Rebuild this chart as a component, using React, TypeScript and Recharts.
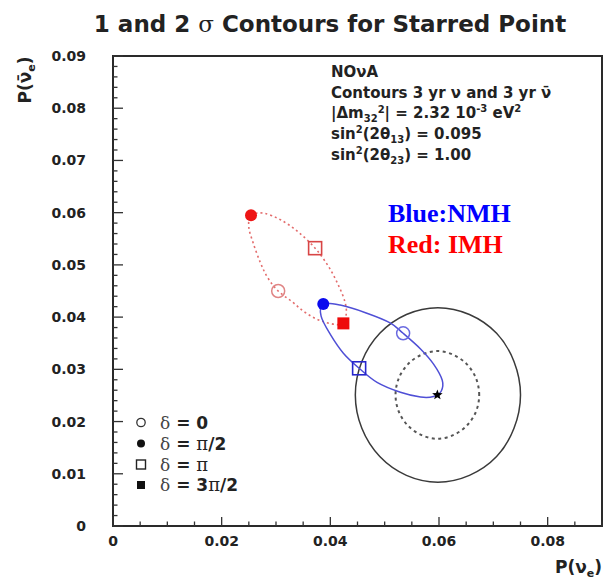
import React from 'react';
import { ScatterChart, Scatter, XAxis, YAxis, ReferenceArea } from 'recharts';

// ---- axis ticks ----
const xMajorTicks = [0, 0.02, 0.04, 0.06, 0.08];
const xTicks = [0, 0.005, 0.01, 0.015, 0.02, 0.025, 0.03, 0.035, 0.04, 0.045, 0.05, 0.055, 0.06, 0.065, 0.07, 0.075, 0.08, 0.085, 0.09];
const yMajorTicks = [0, 0.01, 0.02, 0.03, 0.04, 0.05, 0.06, 0.07, 0.08, 0.09];
const yTicks = [0, 0.002, 0.004, 0.006, 0.008, 0.01, 0.012, 0.014, 0.016, 0.018, 0.02, 0.022, 0.024, 0.026, 0.028, 0.03, 0.032, 0.034, 0.036, 0.038, 0.04, 0.042, 0.044, 0.046, 0.048, 0.05, 0.052, 0.054, 0.056, 0.058, 0.06, 0.062, 0.064, 0.066, 0.068, 0.07, 0.072, 0.074, 0.076, 0.078, 0.08, 0.082, 0.084, 0.086, 0.088, 0.09];

// ---- contours ----
const nmhContour = [
  { x: 0.0387, y: 0.0425 }, { x: 0.0418, y: 0.0423 }, { x: 0.0466, y: 0.0408 }, { x: 0.0510, y: 0.0389 },
  { x: 0.0534, y: 0.0369 }, { x: 0.0566, y: 0.0339 }, { x: 0.0590, y: 0.0310 }, { x: 0.0606, y: 0.0279 },
  { x: 0.0604, y: 0.0258 }, { x: 0.0590, y: 0.0248 }, { x: 0.0566, y: 0.0247 }, { x: 0.0529, y: 0.0256 },
  { x: 0.0486, y: 0.0275 }, { x: 0.0453, y: 0.0302 }, { x: 0.0424, y: 0.0331 }, { x: 0.0400, y: 0.0367 },
  { x: 0.0383, y: 0.0402 },
];
const imhContour = [
  { x: 0.0254, y: 0.0595 }, { x: 0.0278, y: 0.0599 }, { x: 0.0309, y: 0.0586 }, { x: 0.0341, y: 0.0563 },
  { x: 0.0372, y: 0.0532 }, { x: 0.0396, y: 0.0498 }, { x: 0.0414, y: 0.0463 }, { x: 0.0427, y: 0.0429 },
  { x: 0.0429, y: 0.0404 }, { x: 0.0420, y: 0.0386 }, { x: 0.0385, y: 0.0392 }, { x: 0.0355, y: 0.0408 },
  { x: 0.0330, y: 0.0429 }, { x: 0.0304, y: 0.0450 }, { x: 0.0285, y: 0.0475 }, { x: 0.0271, y: 0.0505 },
  { x: 0.0258, y: 0.0542 }, { x: 0.0250, y: 0.0572 },
];
const twoSigmaContour = [
  { x: 0.0750, y: 0.0251 }, { x: 0.0738, y: 0.0315 }, { x: 0.0706, y: 0.0369 }, { x: 0.0656, y: 0.0405 },
  { x: 0.0598, y: 0.0418 }, { x: 0.0540, y: 0.0405 }, { x: 0.0491, y: 0.0369 }, { x: 0.0458, y: 0.0315 },
  { x: 0.0446, y: 0.0251 }, { x: 0.0458, y: 0.0187 }, { x: 0.0491, y: 0.0133 }, { x: 0.0540, y: 0.0097 },
  { x: 0.0598, y: 0.0084 }, { x: 0.0656, y: 0.0097 }, { x: 0.0706, y: 0.0133 }, { x: 0.0738, y: 0.0187 },
];
const oneSigmaContour = [
  { x: 0.0674, y: 0.0251 }, { x: 0.0668, y: 0.0283 }, { x: 0.0651, y: 0.0310 }, { x: 0.0626, y: 0.0328 },
  { x: 0.0597, y: 0.0335 }, { x: 0.0568, y: 0.0328 }, { x: 0.0543, y: 0.0310 }, { x: 0.0526, y: 0.0283 },
  { x: 0.0520, y: 0.0251 }, { x: 0.0526, y: 0.0219 }, { x: 0.0543, y: 0.0192 }, { x: 0.0568, y: 0.0174 },
  { x: 0.0597, y: 0.0167 }, { x: 0.0626, y: 0.0174 }, { x: 0.0651, y: 0.0192 }, { x: 0.0668, y: 0.0219 },
];

// ---- marked points ----
const starredPoint = [{ x: 0.0597, y: 0.0251 }];
const nmhDelta0 = [{ x: 0.0534, y: 0.0369 }];
const nmhDeltaHalfPi = [{ x: 0.0387, y: 0.0425 }];
const nmhDeltaPi = [{ x: 0.0453, y: 0.0302 }];
const imhDelta0 = [{ x: 0.0304, y: 0.0450 }];
const imhDeltaHalfPi = [{ x: 0.0254, y: 0.0595 }];
const imhDeltaPi = [{ x: 0.0372, y: 0.0532 }];
const imhDelta3HalfPi = [{ x: 0.0424, y: 0.0388 }];

const legendLabels = ['0', 'π/2', 'π', '3π/2'];
const infoLines = ['NOνA', 'Contours 3 yr ν and 3 yr ν̄'];

const SANS = 'DejaVu Sans';
const SERIF = 'DejaVu Serif';
const INK = '#222';

// closed Catmull-Rom curve through the read points
const closedSmooth = (context: any) => {
  let pts: number[][] = [];
  return {
    areaStart() {},
    areaEnd() {},
    lineStart() { pts = []; },
    point(x: number, y: number) { pts.push([+x, +y]); },
    lineEnd() {
      const n = pts.length;
      if (!n) return;
      context.moveTo(pts[0][0], pts[0][1]);
      for (let i = 0; i < n; i++) {
        const p0 = pts[(i - 1 + n) % n], p1 = pts[i], p2 = pts[(i + 1) % n], p3 = pts[(i + 2) % n];
        context.bezierCurveTo(
          p1[0] + (p2[0] - p0[0]) / 6, p1[1] + (p2[1] - p0[1]) / 6,
          p2[0] - (p3[0] - p1[0]) / 6, p2[1] - (p3[1] - p1[1]) / 6,
          p2[0], p2[1]
        );
      }
      context.closePath();
    },
  };
};

const isIn = (arr: number[], v: number) => arr.some((m) => Math.abs(m - v) < 1e-9);
const fmt = (v: number) => (v === 0 ? '0' : v.toFixed(2));

const XTick = (props: any) => {
  const { x, y, payload } = props;
  const major = isIn(xMajorTicks, payload.value);
  return (
    <g>
      <line x1={x} y1={y} x2={x} y2={y - (major ? 9 : 4.5)} stroke="#333" strokeWidth={1.3} />
      {major && (
        <text x={x} y={y + 20} textAnchor="middle" fontFamily={SANS} fontWeight="bold" fontSize={14} fill={INK}>
          {fmt(payload.value)}
        </text>
      )}
    </g>
  );
};

const YTick = (props: any) => {
  const { x, y, payload } = props;
  const major = isIn(yMajorTicks, payload.value);
  return (
    <g>
      <line x1={x} y1={y} x2={x + (major ? 10 : 4.5)} y2={y} stroke="#333" strokeWidth={1.3} />
      {major && (
        <text x={x - 27} y={y + 5} textAnchor="end" fontFamily={SANS} fontWeight="bold" fontSize={14} fill={INK}>
          {fmt(payload.value)}
        </text>
      )}
    </g>
  );
};

const noShape = () => <g />;
const openCircle = (color: string) => (p: any) => (
  <circle cx={p.cx} cy={p.cy} r={6.5} fill="none" stroke={color} strokeWidth={1.5} />
);
const filledCircle = (color: string) => (p: any) => <circle cx={p.cx} cy={p.cy} r={6} fill={color} />;
const openSquare = (color: string) => (p: any) => (
  <rect x={p.cx - 6.5} y={p.cy - 6.5} width={13} height={13} fill="none" stroke={color} strokeWidth={1.6} />
);
const filledSquare = (color: string) => (p: any) => (
  <rect x={p.cx - 6} y={p.cy - 6} width={12} height={12} fill={color} />
);
const starShape = (p: any) => {
  const pts: string[] = [];
  for (let i = 0; i < 10; i++) {
    const r = i % 2 === 0 ? 5.5 : 2.3;
    const a = -Math.PI / 2 + (i * Math.PI) / 5;
    pts.push(`${p.cx + r * Math.cos(a)},${p.cy + r * Math.sin(a)}`);
  }
  return <polygon points={pts.join(' ')} fill="#000" />;
};

export default function App() {
  const legendY = [422.5, 443.5, 464.5, 485];
  const infoStyle = { fontFamily: SANS, fontWeight: 'bold' as const, fontSize: 15, fill: INK };
  return (
    <div style={{ position: 'absolute', left: 0, top: 0, width: 604, height: 581, background: '#fff' }}>
      <ScatterChart width={604} height={581} margin={{ top: 56, right: 2, bottom: 0, left: 0 }}>
        <XAxis
          type="number"
          dataKey="x"
          domain={[0, 0.09]}
          ticks={xTicks}
          interval={0}
          tickSize={0}
          tickMargin={0}
          axisLine={false}
          tickLine={false}
          tick={<XTick />}
          height={55}
          allowDataOverflow
        />
        <YAxis
          type="number"
          dataKey="y"
          domain={[0, 0.09]}
          ticks={yTicks}
          interval={0}
          tickSize={0}
          tickMargin={0}
          axisLine={false}
          tickLine={false}
          tick={<YTick />}
          width={113}
          allowDataOverflow
        />
        <ReferenceArea x1={0} x2={0.09} y1={0} y2={0.09} fill="none" stroke="#2a2a2a" strokeWidth={2} ifOverflow="visible" />
        <Scatter data={twoSigmaContour} fill="none" line={{ stroke: '#3a3a3a', strokeWidth: 1.5 }} lineJointType={closedSmooth as any} shape={noShape} isAnimationActive={false} />
        <Scatter data={oneSigmaContour} fill="none" line={{ stroke: '#555', strokeWidth: 2, strokeDasharray: '3 3.5' }} lineJointType={closedSmooth as any} shape={noShape} isAnimationActive={false} />
        <Scatter data={imhContour} fill="none" line={{ stroke: '#e36c6c', strokeWidth: 1.6, strokeDasharray: '2 3' }} lineJointType={closedSmooth as any} shape={noShape} isAnimationActive={false} />
        <Scatter data={nmhContour} fill="none" line={{ stroke: '#4f4fd6', strokeWidth: 1.5 }} lineJointType={closedSmooth as any} shape={noShape} isAnimationActive={false} />
        <Scatter data={imhDelta0} shape={openCircle('#e08585')} isAnimationActive={false} />
        <Scatter data={imhDeltaHalfPi} shape={filledCircle('#ee1515')} isAnimationActive={false} />
        <Scatter data={imhDeltaPi} shape={openSquare('#d84545')} isAnimationActive={false} />
        <Scatter data={imhDelta3HalfPi} shape={filledSquare('#ee0a0a')} isAnimationActive={false} />
        <Scatter data={nmhDelta0} shape={openCircle('#6a6ae0')} isAnimationActive={false} />
        <Scatter data={nmhDeltaHalfPi} shape={filledCircle('#0a0aee')} isAnimationActive={false} />
        <Scatter data={nmhDeltaPi} shape={openSquare('#2626cc')} isAnimationActive={false} />
        <Scatter data={starredPoint} shape={starShape} isAnimationActive={false} />
      </ScatterChart>

      <svg width={604} height={581} style={{ position: 'absolute', left: 0, top: 0, pointerEvents: 'none' }}>
        {/* title */}
        <text x={330} y={32} textAnchor="middle" fontFamily={SANS} fontWeight="bold" fontSize={23} fill={INK}>
          1 and 2 <tspan fontFamily={SERIF} fontWeight="normal">σ</tspan> Contours for Starred Point
        </text>

        {/* axis titles */}
        <text x={602} y={573} textAnchor="end" fontFamily={SANS} fontWeight="bold" fontSize={17} fill={INK}>
          P(ν<tspan dy={4} fontSize={11}>e</tspan><tspan dy={-4}>)</tspan>
        </text>
        <text transform="translate(31,80) rotate(-90)" textAnchor="middle" fontFamily={SANS} fontWeight="bold" fontSize={17} fill={INK}>
          P(ν̄<tspan dy={4} fontSize={11}>e</tspan><tspan dy={-4}>)</tspan>
        </text>

        {/* info block */}
        <text x={331} y={77} {...infoStyle}>{infoLines[0]}</text>
        <text x={331} y={98} {...infoStyle}>{infoLines[1]}</text>
        <text x={331} y={118} {...infoStyle}>
          |Δm<tspan dy={4} fontSize={10}>32</tspan><tspan dy={-9} fontSize={10}>2</tspan>
          <tspan dy={5}>| = 2.32 10</tspan><tspan dy={-6} fontSize={10}>-3</tspan>
          <tspan dy={6}> eV</tspan><tspan dy={-6} fontSize={10}>2</tspan>
        </text>
        <text x={331} y={139} {...infoStyle}>
          sin<tspan dy={-6} fontSize={10}>2</tspan><tspan dy={6}>(2θ</tspan>
          <tspan dy={4} fontSize={10}>13</tspan><tspan dy={-4}>) = 0.095</tspan>
        </text>
        <text x={331} y={160} {...infoStyle}>
          sin<tspan dy={-6} fontSize={10}>2</tspan><tspan dy={6}>(2θ</tspan>
          <tspan dy={4} fontSize={10}>23</tspan><tspan dy={-4}>) = 1.00</tspan>
        </text>

        {/* hierarchy labels */}
        <text x={388} y={222} fontFamily="Liberation Serif" fontWeight="bold" fontSize={26} fill="#0000ff">Blue:NMH</text>
        <text x={388} y={253} fontFamily="Liberation Serif" fontWeight="bold" fontSize={26} fill="#ff0000">Red: IMH</text>

        {/* legend */}
        <circle cx={141} cy={legendY[0]} r={4.2} fill="none" stroke="#333" strokeWidth={1.3} />
        <circle cx={141} cy={legendY[1]} r={4} fill="#111" />
        <rect x={136.5} y={legendY[2] - 4.5} width={9} height={9} fill="none" stroke="#222" strokeWidth={1.4} />
        <rect x={137} y={legendY[3] - 4} width={8} height={8} fill="#111" />
        {legendLabels.map((lab, i) => (
          <text key={i} x={160} y={legendY[i] + 6} fontFamily={SANS} fontWeight="bold" fontSize={17} fill={INK}>
            <tspan fontFamily={SERIF} fontWeight="normal" fill="#444">δ</tspan> ={' '}
            {lab.split('π').map((part, j, arr) => (
              <React.Fragment key={j}>
                {part}
                {j < arr.length - 1 && <tspan fontFamily={SERIF} fontWeight="normal" fontSize={18}>π</tspan>}
              </React.Fragment>
            ))}
          </text>
        ))}
      </svg>
    </div>
  );
}
